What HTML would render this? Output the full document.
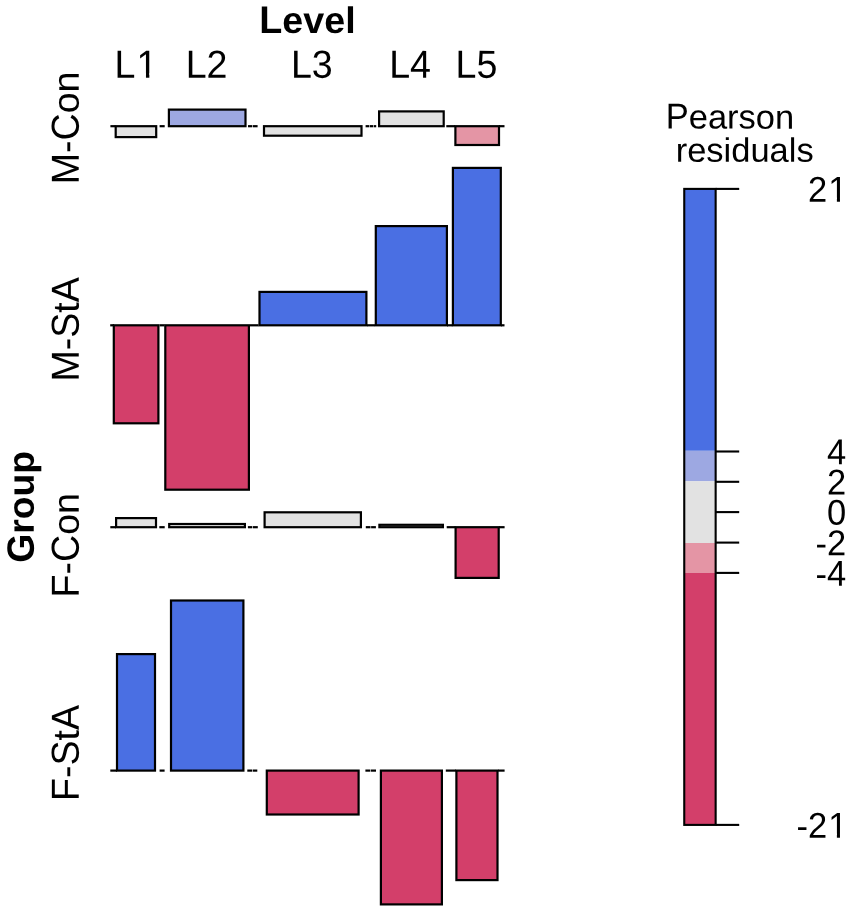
<!DOCTYPE html>
<html><head><meta charset="utf-8"><title>Association plot</title>
<style>
html,body{margin:0;padding:0;background:#fff;}
body{width:851px;height:912px;overflow:hidden;font-family:"Liberation Sans",sans-serif;}
svg{display:block;position:absolute;left:0;top:0;will-change:transform;}
text{font-family:"Liberation Sans",sans-serif;fill:#000;font-kerning:none;}
</style></head><body>
<svg width="851" height="912" viewBox="0 0 851 912">
<rect x="0" y="0" width="851" height="912" fill="#ffffff"/>
<g stroke="#000" stroke-width="2.2" stroke-linejoin="miter">
<rect x="115.70" y="126.20" width="40.50" height="10.90" fill="#E2E2E2"/>
<rect x="168.90" y="109.60" width="76.60" height="16.60" fill="#9DA8E2"/>
<rect x="264.00" y="126.20" width="97.50" height="9.50" fill="#E2E2E2"/>
<rect x="379.10" y="111.40" width="64.60" height="14.80" fill="#E2E2E2"/>
<rect x="455.40" y="126.20" width="43.60" height="18.80" fill="#E495A5"/>
<rect x="113.80" y="325.30" width="44.60" height="98.00" fill="#D33F6A"/>
<rect x="165.30" y="325.30" width="83.60" height="164.40" fill="#D33F6A"/>
<rect x="259.50" y="291.90" width="106.90" height="33.40" fill="#4A6FE3"/>
<rect x="375.80" y="226.10" width="71.10" height="99.20" fill="#4A6FE3"/>
<rect x="452.90" y="167.90" width="47.90" height="157.40" fill="#4A6FE3"/>
<rect x="116.10" y="518.10" width="39.90" height="9.10" fill="#E2E2E2"/>
<rect x="169.20" y="524.00" width="75.70" height="3.20" fill="#E2E2E2"/>
<rect x="264.60" y="512.30" width="96.30" height="14.90" fill="#E2E2E2"/>
<rect x="379.40" y="524.80" width="63.50" height="2.40" fill="#E2E2E2"/>
<rect x="455.60" y="527.20" width="43.10" height="50.70" fill="#D33F6A"/>
<rect x="117.00" y="654.10" width="38.00" height="116.50" fill="#4A6FE3"/>
<rect x="171.00" y="600.50" width="72.40" height="170.10" fill="#4A6FE3"/>
<rect x="266.80" y="770.60" width="91.80" height="43.90" fill="#D33F6A"/>
<rect x="380.90" y="770.60" width="61.00" height="133.80" fill="#D33F6A"/>
<rect x="456.40" y="770.60" width="41.10" height="109.50" fill="#D33F6A"/>
</g>
<g stroke="#000" stroke-width="2.2" stroke-linecap="butt" fill="none">
<line x1="110.40" y1="126.20" x2="115.50" y2="126.20"/>
<line x1="159.60" y1="126.20" x2="164.70" y2="126.20"/>
<line x1="248.00" y1="126.20" x2="252.30" y2="126.20"/>
<line x1="252.90" y1="126.20" x2="257.60" y2="126.20"/>
<line x1="365.60" y1="126.20" x2="369.40" y2="126.20"/>
<line x1="370.00" y1="126.20" x2="373.00" y2="126.20"/>
<line x1="373.60" y1="126.20" x2="376.20" y2="126.20"/>
<line x1="446.30" y1="126.20" x2="455.00" y2="126.20"/>
<line x1="499.00" y1="126.20" x2="504.50" y2="126.20"/>
<line x1="110.20" y1="325.30" x2="114.00" y2="325.30"/>
<line x1="159.50" y1="325.30" x2="164.50" y2="325.30"/>
<line x1="250.00" y1="325.30" x2="258.60" y2="325.30"/>
<line x1="367.00" y1="325.30" x2="375.00" y2="325.30"/>
<line x1="447.00" y1="325.30" x2="452.50" y2="325.30"/>
<line x1="501.00" y1="325.30" x2="504.50" y2="325.30"/>
<line x1="110.30" y1="527.20" x2="116.00" y2="527.20"/>
<line x1="159.30" y1="527.20" x2="164.70" y2="527.20"/>
<line x1="247.90" y1="527.20" x2="252.30" y2="527.20"/>
<line x1="252.90" y1="527.20" x2="257.80" y2="527.20"/>
<line x1="365.80" y1="527.20" x2="370.50" y2="527.20"/>
<line x1="371.10" y1="527.20" x2="375.90" y2="527.20"/>
<line x1="446.70" y1="527.20" x2="455.50" y2="527.20"/>
<line x1="499.00" y1="527.20" x2="504.60" y2="527.20"/>
<line x1="110.30" y1="770.60" x2="117.00" y2="770.60"/>
<line x1="159.60" y1="770.60" x2="164.60" y2="770.60"/>
<line x1="247.30" y1="770.60" x2="252.00" y2="770.60"/>
<line x1="252.60" y1="770.60" x2="257.30" y2="770.60"/>
<line x1="365.40" y1="770.60" x2="370.40" y2="770.60"/>
<line x1="371.00" y1="770.60" x2="376.00" y2="770.60"/>
<line x1="445.80" y1="770.60" x2="456.00" y2="770.60"/>
<line x1="498.00" y1="770.60" x2="504.60" y2="770.60"/>
</g>
<rect x="684.25" y="188.90" width="31.40" height="261.90" fill="#4A6FE3"/>
<rect x="684.25" y="450.80" width="31.40" height="30.50" fill="#9DA8E2"/>
<rect x="684.25" y="481.30" width="31.40" height="61.70" fill="#E2E2E2"/>
<rect x="684.25" y="543.00" width="31.40" height="29.90" fill="#E495A5"/>
<rect x="684.25" y="572.90" width="31.40" height="252.00" fill="#D33F6A"/>
<rect x="684.25" y="188.90" width="31.40" height="636.00" fill="none" stroke="#000" stroke-width="2.1"/>
<g stroke="#000" stroke-width="2.1">
<line x1="715.65" y1="188.90" x2="739.2" y2="188.90"/>
<line x1="715.65" y1="451.50" x2="739.2" y2="451.50"/>
<line x1="715.65" y1="481.80" x2="739.2" y2="481.80"/>
<line x1="715.65" y1="512.10" x2="739.2" y2="512.10"/>
<line x1="715.65" y1="542.60" x2="739.2" y2="542.60"/>
<line x1="715.65" y1="572.90" x2="739.2" y2="572.90"/>
<line x1="715.65" y1="824.90" x2="739.2" y2="824.90"/>
</g>
<g transform="translate(846.30,201.65)" font-size="34.5"><text transform="matrix(1,0.0005,0,1.04,-38.37,0)">2</text><g transform="matrix(1,0.0005,0,1.04,-19.19,0)"><text x="1.13">1</text><rect x="2.81" y="-3.96" width="6.97" height="5.05" fill="#fff"/><rect x="12.87" y="-3.96" width="6.81" height="5.05" fill="#fff"/></g></g>
<g transform="translate(846.30,464.25)" font-size="34.5"><text transform="matrix(1,0.0005,0,1.04,-19.19,0)">4</text></g>
<g transform="translate(846.30,494.55)" font-size="34.5"><text transform="matrix(1,0.0005,0,1.04,-19.19,0)">2</text></g>
<g transform="translate(846.30,524.85)" font-size="34.5"><text transform="matrix(1,0.0005,0,1.04,-19.19,0)">0</text></g>
<g transform="translate(846.30,555.35)" font-size="34.5"><text transform="matrix(1,0.0005,0,1.0,-30.68,0)">-</text><text transform="matrix(1,0.0005,0,1.04,-19.19,0)">2</text></g>
<g transform="translate(846.30,585.65)" font-size="34.5"><text transform="matrix(1,0.0005,0,1.0,-30.68,0)">-</text><text transform="matrix(1,0.0005,0,1.04,-19.19,0)">4</text></g>
<g transform="translate(846.30,837.65)" font-size="34.5"><text transform="matrix(1,0.0005,0,1.0,-49.86,0)">-</text><text transform="matrix(1,0.0005,0,1.04,-38.37,0)">2</text><g transform="matrix(1,0.0005,0,1.04,-19.19,0)"><text x="1.13">1</text><rect x="2.81" y="-3.96" width="6.97" height="5.05" fill="#fff"/><rect x="12.87" y="-3.96" width="6.81" height="5.05" fill="#fff"/></g></g>
<g transform="translate(730.00,128.60)" font-size="34.5"><text transform="matrix(1,0.0005,0,1.04,-64.25,0)">P</text><text transform="matrix(1,0.0005,0,0.98,-41.24,0)">earson</text></g>
<g transform="translate(744.70,161.70)" font-size="34.5"><text transform="matrix(1,0.0005,0,0.98,-69.03,0)">residuals</text></g>
<g transform="translate(307.50,32.90)" font-size="37.7" font-weight="bold"><text transform="matrix(1,0.0005,0,1.02,-48.20,0)">L</text><text transform="matrix(1,0.0005,0,0.98,-25.17,0)">evel</text></g>
<g transform="translate(135.30,77.80)" font-size="37.6"><text transform="matrix(1,0.0005,0,1.04,-20.91,0)">L</text><g transform="matrix(1,0.0005,0,1.04,0.00,0)"><text x="1.23">1</text><rect x="3.07" y="-4.31" width="7.60" height="5.51" fill="#fff"/><rect x="14.03" y="-4.31" width="7.42" height="5.51" fill="#fff"/></g></g>
<g transform="translate(206.60,77.80)" font-size="37.6"><text transform="matrix(1,0.0005,0,1.04,-20.91,0)">L2</text></g>
<g transform="translate(311.80,77.80)" font-size="37.6"><text transform="matrix(1,0.0005,0,1.04,-20.91,0)">L3</text></g>
<g transform="translate(410.10,77.80)" font-size="37.6"><text transform="matrix(1,0.0005,0,1.04,-20.91,0)">L4</text></g>
<g transform="translate(476.40,77.80)" font-size="37.6"><text transform="matrix(1,0.0005,0,1.04,-20.91,0)">L5</text></g>
<g transform="translate(78.70,127.90) rotate(-90)" font-size="37.6"><text transform="matrix(1,0.0005,0,1.04,-56.41,0)">M</text><text transform="matrix(1,0.0005,0,1.0,-25.09,0)">-</text><text transform="matrix(1,0.0005,0,1.04,-12.57,0)">C</text><text transform="matrix(1,0.0005,0,0.98,14.59,0)">on</text></g>
<g transform="translate(78.70,329.40) rotate(-90)" font-size="37.6"><text transform="matrix(1,0.0005,0,1.04,-52.22,0)">M</text><text transform="matrix(1,0.0005,0,1.0,-20.90,0)">-</text><text transform="matrix(1,0.0005,0,1.04,-8.38,0)">S</text><text transform="matrix(1,0.0005,0,0.98,16.70,0)">t</text><text transform="matrix(1,0.0005,0,1.04,27.14,0)">A</text></g>
<g transform="translate(78.70,545.20) rotate(-90)" font-size="37.6"><text transform="matrix(1,0.0005,0,1.04,-52.23,0)">F</text><text transform="matrix(1,0.0005,0,1.0,-29.26,0)">-</text><text transform="matrix(1,0.0005,0,1.04,-16.74,0)">C</text><text transform="matrix(1,0.0005,0,0.98,10.41,0)">on</text></g>
<g transform="translate(78.70,752.90) rotate(-90)" font-size="37.6"><text transform="matrix(1,0.0005,0,1.04,-48.05,0)">F</text><text transform="matrix(1,0.0005,0,1.0,-25.08,0)">-</text><text transform="matrix(1,0.0005,0,1.04,-12.56,0)">S</text><text transform="matrix(1,0.0005,0,0.98,12.52,0)">t</text><text transform="matrix(1,0.0005,0,1.04,22.97,0)">A</text></g>
<g transform="translate(33.80,506.80) rotate(-90)" font-size="37.3" font-weight="bold"><text transform="matrix(1,0.0005,0,1.02,-55.94,0)">G</text><text transform="matrix(1,0.0005,0,0.98,-26.93,0)">roup</text></g>
</svg></body></html>
